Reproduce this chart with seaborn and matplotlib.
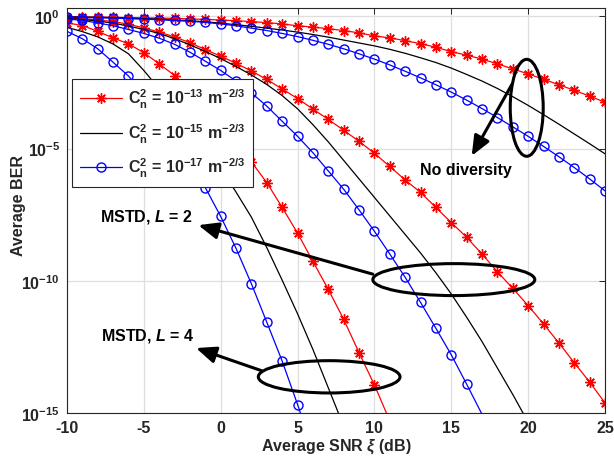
import numpy as np
import pandas as pd
import matplotlib
matplotlib.use("Agg")
import matplotlib.pyplot as plt
import seaborn as sns
from matplotlib.patches import Ellipse
from matplotlib.lines import Line2D

# ---------------- data (log10 of average BER) -------------
snr_db = list(range(-10, 26))

# C_n^2 = 1e-13 (red, asterisk)
red_nodiv = [-0.02, -0.025, -0.03, -0.04, -0.05, -0.06, -0.07, -0.08, -0.1, -0.12,
             -0.14, -0.17, -0.2, -0.24, -0.29, -0.36, -0.41, -0.47, -0.54, -0.63,
             -0.74, -0.82, -0.92, -1.04, -1.17, -1.34, -1.47, -1.62, -1.8, -1.99,
             -2.18, -2.38, -2.59, -2.8, -3.02, -3.25]
red_L2 = [-0.07, -0.1, -0.14, -0.2, -0.3, -0.44, -0.6, -0.78, -1.0, -1.26,
          -1.51, -1.78, -2.07, -2.39, -2.75, -3.11, -3.51, -3.9, -4.31, -4.73,
          -5.18, -5.68, -6.19, -6.66, -7.23, -7.8, -8.36, -8.99, -9.66, -10.29,
          -10.94, -11.63, -12.35, -13.1, -13.83, -14.62]
red_L4 = [-0.25, -0.35, -0.57, -0.82, -1.04, -1.38, -1.8, -2.24, -2.8, -3.4,
          -4.05, -4.75, -5.51, -6.29, -7.23, -8.2, -9.27, -10.33, -11.46, -12.72,
          -13.94, -15.3]

# C_n^2 = 1e-15 (black, no marker)
black_nodiv = [-0.02, -0.03, -0.04, -0.05, -0.07, -0.09, -0.11, -0.14, -0.17, -0.21,
               -0.26, -0.32, -0.38, -0.45, -0.52, -0.6, -0.69, -0.79, -0.9, -1.01,
               -1.12, -1.25, -1.4, -1.57, -1.75, -1.96, -2.2, -2.45, -2.73, -3.04,
               -3.37, -3.72, -4.08, -4.45, -4.82, -5.2]
black_L2 = [-0.08, -0.12, -0.18, -0.26, -0.37, -0.5, -0.65, -0.85, -1.08, -1.33,
            -1.6, -1.9, -2.22, -2.58, -3.0, -3.5, -4.1, -4.75, -5.45, -6.15,
            -6.85, -7.55, -8.25, -8.95, -9.7, -10.5, -11.38, -12.3, -13.3, -14.3,
            -15.35]
black_L4 = [-0.42, -0.58, -0.78, -1.05, -1.42, -2.05, -2.75, -3.5, -4.25, -5.0,
            -5.75, -6.65, -7.6, -8.75, -9.98, -11.25, -12.6, -14.05, -15.5]

# C_n^2 = 1e-17 (blue, circle)
blue_nodiv = [-0.04, -0.05, -0.06, -0.07, -0.09, -0.11, -0.13, -0.16, -0.19, -0.23,
              -0.29, -0.36, -0.45, -0.54, -0.65, -0.77, -0.91, -1.06, -1.23, -1.42,
              -1.62, -1.84, -2.08, -2.33, -2.59, -2.87, -3.17, -3.49, -3.83, -4.18,
              -4.54, -4.92, -5.31, -5.72, -6.15, -6.6]
blue_L2 = [-0.1, -0.16, -0.25, -0.36, -0.5, -0.65, -0.83, -1.06, -1.36, -1.7,
           -2.05, -2.45, -2.9, -3.4, -3.97, -4.54, -5.16, -5.85, -6.54, -7.32,
           -8.13, -8.99, -9.87, -10.82, -11.8, -12.8, -13.91, -15.05]
blue_L4 = [-0.57, -0.85, -1.23, -1.74, -2.26, -2.95, -3.72, -4.6, -5.5, -6.48,
           -7.57, -8.78, -10.12, -11.57, -13.04, -14.68, -16.4]

legend_labels = [r"$\mathbf{C_n^2}$ = $\mathbf{10^{-13}}$ $\mathbf{m^{-2/3}}$",
                 r"$\mathbf{C_n^2}$ = $\mathbf{10^{-15}}$ $\mathbf{m^{-2/3}}$",
                 r"$\mathbf{C_n^2}$ = $\mathbf{10^{-17}}$ $\mathbf{m^{-2/3}}$"]
x_ticks = [-10, -5, 0, 5, 10, 15, 20, 25]
y_tick_exp = [-15, -10, -5, 0]
x_label = r"Average SNR $\mathit{\xi}$ (dB)"
y_label = "Average BER"
note_nodiv = "No diversity"
note_L2 = r"MSTD, $\mathit{L}$ = 2"
note_L4 = r"MSTD, $\mathit{L}$ = 4"

# ---------------- style ----------------
sns.set_theme(style="white")
plt.rcParams["font.family"] = ["Liberation Sans", "DejaVu Sans"]
plt.rcParams["font.weight"] = "bold"
plt.rcParams["mathtext.fontset"] = "custom"
plt.rcParams["mathtext.rm"] = "Liberation Sans:bold"
plt.rcParams["mathtext.bf"] = "Liberation Sans:bold"
plt.rcParams["mathtext.it"] = "Liberation Sans:italic:bold"

fig = plt.figure(figsize=(6.14, 4.60), dpi=100)
ax = fig.add_axes([67 / 614, 46 / 460, 538 / 614, 404.7 / 460])

YMIN = 1e-15
ASTER = (8, 2, 0)


def draw(vals, color, marker, ms):
    n = len(vals)
    df = pd.DataFrame({"snr": snr_db[:n], "ber": np.power(10.0, vals)})
    kw = dict(color=color, linewidth=0.9)
    if marker is not None:
        mask = list(df["ber"] >= YMIN * 0.95)
        kw.update(marker=marker, markersize=ms, markevery=mask,
                  markerfacecolor="none", markeredgecolor=color,
                  markeredgewidth=1.0)
    sns.lineplot(data=df, x="snr", y="ber", ax=ax, estimator=None,
                 sort=False, legend=False, **kw)


for v in (red_nodiv, red_L2, red_L4):
    draw(v, "#ff0000", ASTER, 7.5)
for v in (black_nodiv, black_L2, black_L4):
    draw(v, "black", None, 0)
for v in (blue_nodiv, blue_L2, blue_L4):
    draw(v, "#0000ff", "o", 6.5)

ax.set_yscale("log")
ax.set_xlim(-10, 25)
ax.set_ylim(YMIN, 2)
ax.set_xticks(x_ticks)
ax.set_xticklabels([str(t) for t in x_ticks])
ax.set_yticks([10.0 ** e for e in y_tick_exp])
ax.set_yticklabels([r"$\mathbf{10^{%d}}$" % e for e in y_tick_exp])
ax.yaxis.set_minor_locator(matplotlib.ticker.NullLocator())
ax.tick_params(direction="in", top=True, right=True, length=4, width=0.7,
               labelsize=11.5, colors="#262626", pad=5)
for lab in ax.get_xticklabels() + ax.get_yticklabels():
    lab.set_fontweight("bold")
    lab.set_color("#262626")
ax.grid(True, color="#dedede", linewidth=0.9)
ax.set_axisbelow(True)
for s in ax.spines.values():
    s.set_color("#262626")
    s.set_linewidth(0.8)
ax.set_xlabel(x_label, fontsize=11.5, fontweight="bold", color="#262626", labelpad=1)
ax.set_ylabel(y_label, fontsize=11.5, fontweight="bold", color="#262626")
ax.yaxis.set_label_coords(-0.077, 0.515)

handles = [
    Line2D([], [], color="#ff0000", lw=0.9, marker=ASTER, ms=7.5, mew=1.0),
    Line2D([], [], color="black", lw=0.9),
    Line2D([], [], color="#0000ff", lw=0.9, marker="o", ms=6.5, mfc="none", mew=1.0),
]
leg = ax.legend(handles, legend_labels, loc="upper left",
                bbox_to_anchor=(0.0093, 0.825), fontsize=11.5, frameon=True,
                fancybox=False, framealpha=1, edgecolor="#262626",
                handlelength=2.6, labelspacing=0.7, borderpad=0.5,
                handletextpad=0.4, borderaxespad=0)
leg.get_frame().set_linewidth(0.8)

# ---------------- annotations (axes fraction) ----------------
ell_kw = dict(transform=ax.transAxes, fill=False, edgecolor="black", linewidth=2.2, zorder=5)
ax.add_patch(Ellipse((0.8545, 0.7541), 0.0613, 0.2395, **ell_kw))
ax.add_patch(Ellipse((0.719, 0.3296), 0.301, 0.079, **ell_kw))
ax.add_patch(Ellipse((0.4873, 0.0894), 0.2634, 0.0798, **ell_kw))

arr = dict(arrowstyle="-|>,head_length=1.0,head_width=0.42", color="black",
           lw=2.2, shrinkA=0, shrinkB=0)
ax.annotate("", xy=(0.7522, 0.6353), xytext=(0.8271, 0.8123),
            xycoords="axes fraction", arrowprops=arr, zorder=6)
ax.annotate("", xy=(0.2441, 0.4642), xytext=(0.5682, 0.3432),
            xycoords="axes fraction", arrowprops=arr, zorder=6)
ax.annotate("", xy=(0.2398, 0.1605), xytext=(0.3619, 0.1044),
            xycoords="axes fraction", arrowprops=arr, zorder=6)

txt_kw = dict(transform=ax.transAxes, fontsize=11.5, fontweight="bold",
              ha="center", va="center", color="black", zorder=7)
ax.text(0.7416, 0.6025, note_nodiv, **txt_kw)
ax.text(0.1468, 0.4864, note_L2, **txt_kw)
ax.text(0.1496, 0.1938, note_L4, **txt_kw)

fig.savefig("out.png", dpi=100)
